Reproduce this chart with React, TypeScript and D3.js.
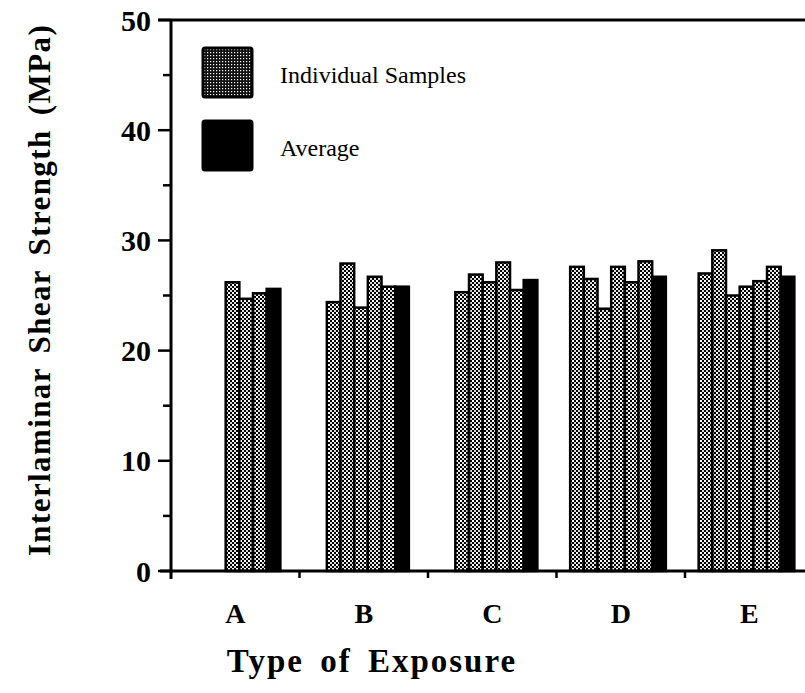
import React from 'react';
import * as d3 from 'd3';

// exposure types and measured shear strengths (MPa)
const categories = ['A', 'B', 'C', 'D', 'E'];
const samplesA = [26.2, 24.7, 25.2];
const samplesB = [24.4, 27.9, 23.9, 26.7, 25.8];
const samplesC = [25.3, 26.9, 26.2, 28.0, 25.5];
const samplesD = [27.6, 26.5, 23.8, 27.6, 26.2, 28.1];
const samplesE = [27.0, 29.1, 25.0, 25.8, 26.3, 27.6];
const averages = [25.6, 25.8, 26.4, 26.7, 26.7];
const yTicks = [0, 10, 20, 30, 40, 50];
const legendLabels = ['Individual Samples', 'Average'];

const samples = [samplesA, samplesB, samplesC, samplesD, samplesE];

const W = 805, H = 693;
const margin = {top: 20, left: 171, bottom: 122};
const serif = '"Liberation Serif", "Times New Roman", serif';

export default function App() {
  const x = d3.scaleBand<string>()
    .domain(categories)
    .range([margin.left, margin.left + 128.5 * categories.length])
    .padding(0);
  const y = d3.scaleLinear().domain([0, 50]).range([H - margin.bottom, margin.top]);
  const slot = x.step() / 9.4;
  const y0 = y(0);

  const bars: {key: string, x: number, v: number, avg: boolean}[] = [];
  categories.forEach((c, ci) => {
    const vals = samples[ci];
    const n = vals.length + 1;
    vals.forEach((v, i) => {
      bars.push({key: c + i, x: x(c)! + (8 - n + i) * slot, v, avg: false});
    });
    bars.push({key: c + 'avg', x: x(c)! + (8 - 1) * slot, v: averages[ci], avg: true});
  });

  const minor = d3.range(5, 50, 10);

  return (
    <svg width={W} height={H} style={{position: 'absolute', left: 0, top: 0, background: '#fff'}}>
      <defs>
        <pattern id="stipple" width="4" height="4" patternUnits="userSpaceOnUse">
          <rect width="4" height="4" fill="#000" />
          <rect x="0" y="0" width="2" height="2" fill="#fff" />
          <rect x="2" y="2" width="2" height="2" fill="#fff" opacity="0.85" />
        </pattern>
        <pattern id="stippleDark" width="3" height="3" patternUnits="userSpaceOnUse">
          <rect width="3" height="3" fill="#111" />
          <rect x="1" y="1" width="1.2" height="1.2" fill="#fff" />
        </pattern>
      </defs>

      {/* bars */}
      {bars.map(b => (
        <rect key={b.key} x={b.x} y={y(b.v)} width={slot} height={y0 - y(b.v)}
          fill={b.avg ? '#000' : 'url(#stipple)'} stroke="#000" strokeWidth={2.5} />
      ))}

      {/* frame */}
      <line x1={margin.left - 13} x2={W} y1={y(50)} y2={y(50)} stroke="#000" strokeWidth={3} />
      <line x1={margin.left - 11} x2={W} y1={y0} y2={y0} stroke="#000" strokeWidth={3} />
      <line x1={margin.left} x2={margin.left} y1={y(50)} y2={y0 + 8} stroke="#000" strokeWidth={3} />

      {/* y ticks */}
      {yTicks.map(t => (
        <g key={t}>
          <line x1={margin.left - 13} x2={margin.left} y1={y(t)} y2={y(t)} stroke="#000" strokeWidth={2.5} />
          <text x={margin.left - 20} y={y(t)} dy="0.35em" textAnchor="end"
            fontFamily={serif} fontWeight="bold" fontSize={30}>{t}</text>
        </g>
      ))}
      {minor.map(t => (
        <line key={t} x1={margin.left - 8} x2={margin.left} y1={y(t)} y2={y(t)} stroke="#000" strokeWidth={2.5} />
      ))}

      {/* x ticks and labels */}
      {categories.slice(1).map(c => (
        <line key={c} x1={x(c)} x2={x(c)} y1={y0} y2={y0 + 7} stroke="#000" strokeWidth={2.5} />
      ))}
      {categories.map(c => (
        <text key={c} x={x(c)! + x.bandwidth() / 2} y={623} textAnchor="middle"
          fontFamily={serif} fontWeight="bold" fontSize={28}>{c}</text>
      ))}

      <text x={372} y={672} textAnchor="middle" fontFamily={serif} fontWeight="bold"
        fontSize={33} letterSpacing={2} wordSpacing={6}>Type of Exposure</text>
      <text transform="translate(50,290) rotate(-90)" textAnchor="middle" fontFamily={serif}
        fontWeight="bold" fontSize={31} letterSpacing={1.4} wordSpacing={5}>Interlaminar Shear Strength (MPa)</text>

      {/* legend */}
      {legendLabels.map((l, i) => (
        <g key={l} transform={`translate(203,${48 + i * 73})`}>
          <rect x={0} y={0} width={49} height={49} rx={2}
            fill={i === 0 ? 'url(#stippleDark)' : '#000'} stroke="#000" strokeWidth={3} />
          <text x={77} y={27} dy="0.35em" fontFamily={serif} fontSize={24}>{l}</text>
        </g>
      ))}
    </svg>
  );
}
